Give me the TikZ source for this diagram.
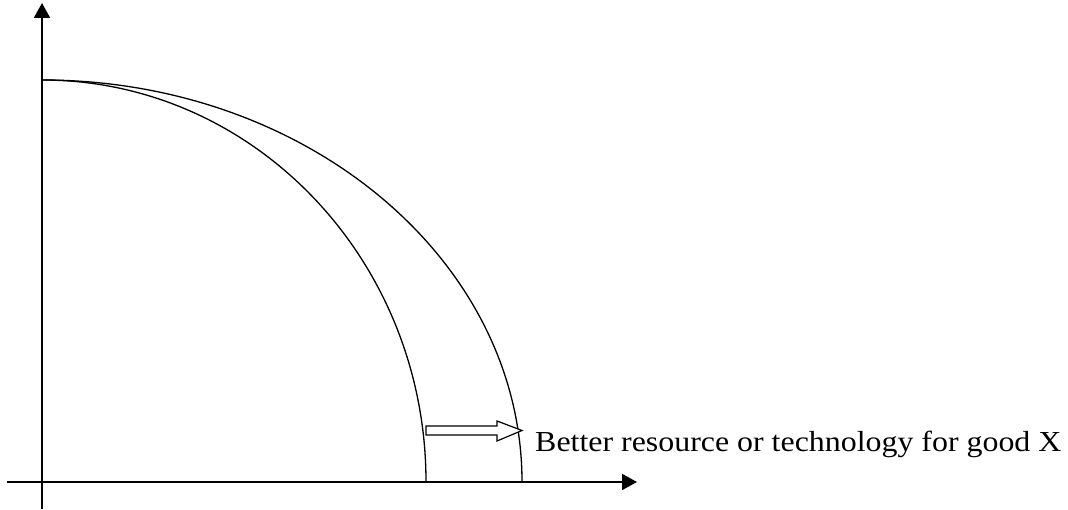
\documentclass[tikz,border=0pt]{standalone}
\usepackage{fontspec}
\setmainfont{Liberation Serif}
\usetikzlibrary{arrows.meta}
\begin{document}
\begin{tikzpicture}[x=1pt,y=1pt,
  axis/.style={line width=2pt,-{Triangle[length=15pt,width=16pt]}},
  ppf/.style={line width=1.3pt},
  hollow/.style={line width=1.2pt,fill=white,line join=miter}]
\useasboundingbox (0,0) rectangle (1068,510);
\coordinate (o) at (42,28);
\coordinate (ytop) at (42,507);
\coordinate (ybot) at (42,1);
\coordinate (xl) at (7,28);
\coordinate (xr) at (637,28);
\draw[axis] (ybot) -- (ytop);
\draw[axis] (xl) -- (xr);
\coordinate (top) at (42,430);
\draw[ppf] (top) arc[start angle=90,end angle=0,x radius=384,y radius=402];
\draw[ppf] (top) arc[start angle=90,end angle=0,x radius=480,y radius=402];
\draw[hollow] (426,75) -- (497,75) -- (497,69) -- (522,79.5) -- (497,89) -- (497,84) -- (426,84) -- cycle;
\node[anchor=base west,inner sep=0pt,xscale=1.1,font=\fontsize{29}{34}\selectfont] (lbl) at (535,58) {Better resource or technology for good X};
\end{tikzpicture}
\end{document}
